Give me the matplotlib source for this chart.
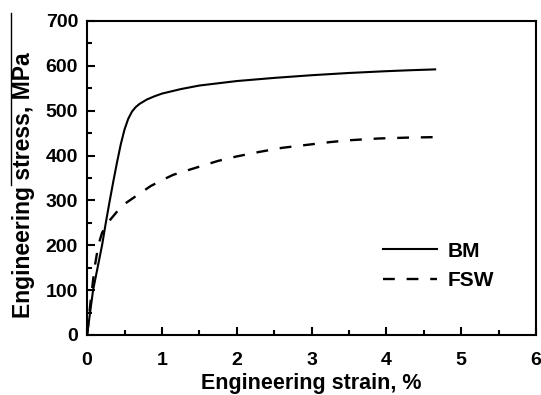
import matplotlib
matplotlib.use('Agg')
import matplotlib.pyplot as plt
from matplotlib.lines import Line2D

# stress-strain data
bm_strain = [0, 0.04, 0.08, 0.14, 0.2, 0.25, 0.3, 0.35, 0.4, 0.45, 0.5, 0.55, 0.6, 0.65, 0.7,
             0.8, 0.9, 1.0, 1.25, 1.5, 2.0, 2.5, 3.0, 3.5, 4.0, 4.3, 4.65]
bm_stress = [0, 50, 100, 150, 200, 250, 297, 342, 385, 425, 458, 482, 498, 508, 515,
             525, 532, 538, 548, 556, 566, 573, 579, 584, 588, 590, 592]

fsw_strain = [0, 0.05, 0.1, 0.15, 0.2, 0.3, 0.4, 0.5, 0.7, 0.85, 1.0, 1.15, 1.4, 1.75, 2.0,
              2.3, 2.6, 3.0, 3.25, 3.5, 3.9, 4.3, 4.65]
fsw_stress = [0, 80, 150, 200, 228, 255, 275, 292, 315, 332, 345, 357, 370, 388, 398,
              408, 417, 425, 430, 434, 438, 440, 441]

plt.rcParams['font.family'] = ['Liberation Sans', 'DejaVu Sans']
plt.rcParams['font.weight'] = 'bold'

fig = plt.figure(figsize=(5.41, 3.95), dpi=100)
ax = fig.add_axes([0.161, 0.152, 0.830, 0.795])

ax.plot(bm_strain, bm_stress, color='black', lw=1.5, label='BM')
ax.plot(fsw_strain, fsw_stress, color='black', lw=1.7, dashes=(5, 5), label='FSW')

ax.set_xlim(0, 6)
ax.set_ylim(0, 700)
ax.set_xticks(range(0, 7))
ax.set_yticks(range(0, 701, 100))
ax.set_xticks([x + 0.5 for x in range(6)], minor=True)
ax.set_yticks([y + 50 for y in range(0, 700, 100)], minor=True)
ax.tick_params(which='both', direction='in', top=False, right=False, width=1.5, labelsize=14)
ax.tick_params(which='major', length=6)
ax.tick_params(which='minor', length=3.5)
ax.tick_params(axis='x', pad=12)
ax.tick_params(axis='y', pad=6.5)
for s in ax.spines.values():
    s.set_linewidth(1.5)

ax.set_xlabel('Engineering strain, %', fontsize=15.5, fontweight='bold', labelpad=3)
ax.set_ylabel('Engineering stress, MPa', fontsize=16.5, fontweight='bold')
ax.yaxis.set_label_coords(-0.116, 0.478)

ax.legend(loc='upper left', bbox_to_anchor=(0.617, 0.357), frameon=False, fontsize=15,
          handlelength=2.6, handletextpad=0.5, labelspacing=0.5)

# thin vertical line at the left edge, as in the source image
fig.add_artist(Line2D([11 / 541, 11 / 541], [1 - 13 / 395, 1 - 185 / 395], color='black', lw=1))

fig.savefig('out.png', dpi=100)
